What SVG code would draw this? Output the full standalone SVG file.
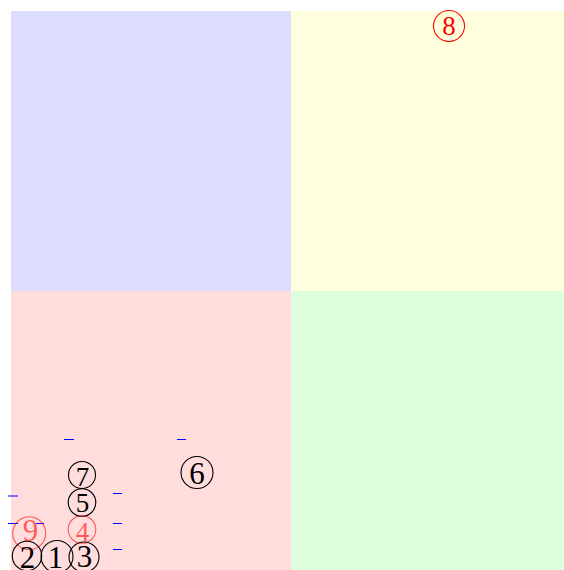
<svg xmlns="http://www.w3.org/2000/svg" width="564" height="570" viewBox="0 0 564 570">
<style>
.n{font-family:"Liberation Serif","Times New Roman",serif;font-size:27px;text-anchor:middle}
.b{font-size:31px}
.c{fill:none;stroke-width:1.1}
.k{fill:#000}
.kc{stroke:#000}
.r{fill:#f00}
.rc{stroke:#f00}
.rl{fill:#f00;fill-opacity:0.6}
.rlc{stroke:#f00;stroke-opacity:0.6}
.d{stroke:#00f;stroke-width:1}
</style>
<rect width="564" height="570" fill="#fff"/>
<g id="quadrants">
<rect x="11" y="11" width="280" height="280" fill="#ddf"/>
<rect x="291" y="11" width="273" height="280" fill="#ffd"/>
<rect x="11" y="291" width="280" height="279" fill="#fdd"/>
<rect x="291" y="291" width="273" height="279" fill="#dfd"/>
</g>
<g id="connectors">
<line class="d" x1="64" y1="439.5" x2="74" y2="439.5"/>
<line class="d" x1="177" y1="439.5" x2="186" y2="439.5"/>
<line class="d" x1="8" y1="496" x2="18" y2="496"/>
<line class="d" x1="113" y1="493.5" x2="122" y2="493.5"/>
<line class="d" x1="8" y1="523.5" x2="18" y2="523.5"/>
<line class="d" x1="36" y1="523.5" x2="44" y2="523.5"/>
<line class="d" x1="113" y1="523.5" x2="122" y2="523.5"/>
<line class="d" x1="113" y1="549.5" x2="122" y2="549.5"/>
</g>
<g id="n8"><circle class="c rc" cx="449" cy="26" r="15.5"/><text class="n r" x="449" y="35">8</text></g>
<g id="n7"><circle class="c kc" cx="82" cy="475" r="13.5"/><text class="n k" x="82.5" y="485.5">7</text></g>
<g id="n6"><circle class="c kc" cx="197" cy="472.5" r="16"/><text class="n b k" x="197" y="483.5">6</text></g>
<g id="n5"><circle class="c kc" cx="82" cy="502.5" r="13.8"/><text class="n k" x="82.5" y="512.3">5</text></g>
<g id="n9"><circle class="c rlc" cx="29.2" cy="533.3" r="16.5"/><text class="n b rl" x="30.5" y="541">9</text></g>
<g id="n4"><circle class="c rlc" cx="82" cy="529.5" r="13.8"/><text class="n rl" x="82.5" y="541">4</text></g>
<g id="n2"><circle class="c kc" cx="27" cy="556" r="14.7"/><text class="n b k" x="27.5" y="567.5">2</text></g>
<g id="n1"><circle class="c kc" cx="57" cy="556.5" r="16"/><text class="n b k" x="55.5" y="567.5">1</text></g>
<g id="n3"><circle class="c kc" cx="84" cy="557" r="15"/><text class="n b k" x="84.5" y="567">3</text></g>
</svg>
